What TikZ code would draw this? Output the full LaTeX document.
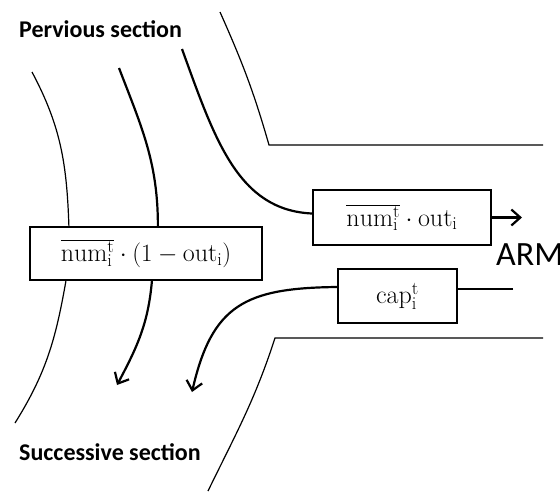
\documentclass[tikz,border=0pt]{standalone}
\usepackage{fontspec}
\newfontfamily\labelfont{Carlito}
\usetikzlibrary{arrows.meta}
\begin{document}
\begin{tikzpicture}[x=1pt,y=1pt]
    % Define styles for boxes and lines
    \tikzstyle{flowbox}=[rectangle, draw, line width=2.2pt, inner sep=0pt, font=\fontsize{26}{30}\selectfont]
    \tikzstyle{wall}=[line width=1.2pt]
    \tikzstyle{flow}=[line width=2.2pt]
    \tikzstyle{flowarrow}=[flow, -{Straight Barb[length=9pt,width=16pt]}]
    \tikzstyle{section}=[font=\labelfont\bfseries\fontsize{24}{28}\selectfont, anchor=base west, inner sep=0pt]

    \useasboundingbox (0,0) rectangle (560,-491);

    % Labels
    \node[section] (prev) at (19,-37) {Pervious section};
    \node[section] (succ) at (19,-460) {Successive section};
    \node[font=\labelfont\fontsize{34}{40}\selectfont, anchor=base west, inner sep=0pt] (arm) at (496,-265) {ARM};

    % Boxes
    \node[flowbox, minimum width=232pt, minimum height=53pt] (stay) at (146,-253.5)
        {$\overline{\mathrm{num}^{\mathrm{t}}_{\mathrm{i}}}\cdot(1-\mathrm{out}_{\mathrm{i}})$};
    \node[flowbox, minimum width=178pt, minimum height=55pt] (leave) at (402,-217.5)
        {$\overline{\mathrm{num}^{\mathrm{t}}_{\mathrm{i}}}\cdot\mathrm{out}_{\mathrm{i}}$};
    \node[flowbox, minimum width=119pt, minimum height=54pt] (cap) at (397.5,-296)
        {$\mathrm{cap}^{\mathrm{t}}_{\mathrm{i}}$};

    % Free ends
    \coordinate (a1) at (32,-72);
    \coordinate (a2) at (15,-423);
    \coordinate (b1) at (119,-68);
    \coordinate (b2) at (117,-385);
    \coordinate (c1) at (182,-49);
    \coordinate (w1) at (220,-12);
    \coordinate (w2) at (269,-145);
    \coordinate (w3) at (543,-145);
    \coordinate (w4) at (543,-338);
    \coordinate (w5) at (275,-338);
    \coordinate (w6) at (208,-491);
    \coordinate (armend) at (522,-217.5);
    \coordinate (capin) at (513,-289);
    \coordinate (capout) at (192,-392);

    % Section walls
    \draw[wall] (w1) to[out=-66,in=106] (w2) -- (w3);
    \draw[wall] (w4) -- (w5) to[out=-108,in=64] (w6);

    % Vehicles staying in the main road
    \draw[wall] (a1) to[out=-62,in=92] ([xshift=40pt]stay.north west);
    \draw[wall] ([xshift=37pt]stay.south west) to[out=-100,in=58] (a2);
    \draw[flow] (b1) to[out=-69,in=90] ([xshift=129pt]stay.north west);
    \draw[flowarrow] ([xshift=123pt]stay.south west) to[out=-95,in=62] (b2);

    % Vehicles leaving to the ARM
    \draw[flow] (c1) .. controls (215,-140) and (238,-210) .. ([yshift=4pt]leave.west);
    \draw[flowarrow] (leave.east) -- (armend);

    % Vehicles coming in from the ARM
    \draw[flow] (capin) -- ([yshift=7pt]cap.east);
    \draw[flowarrow] ([yshift=9pt]cap.west) .. controls (245,-288) and (212,-305) .. (capout);
\end{tikzpicture}
\end{document}
